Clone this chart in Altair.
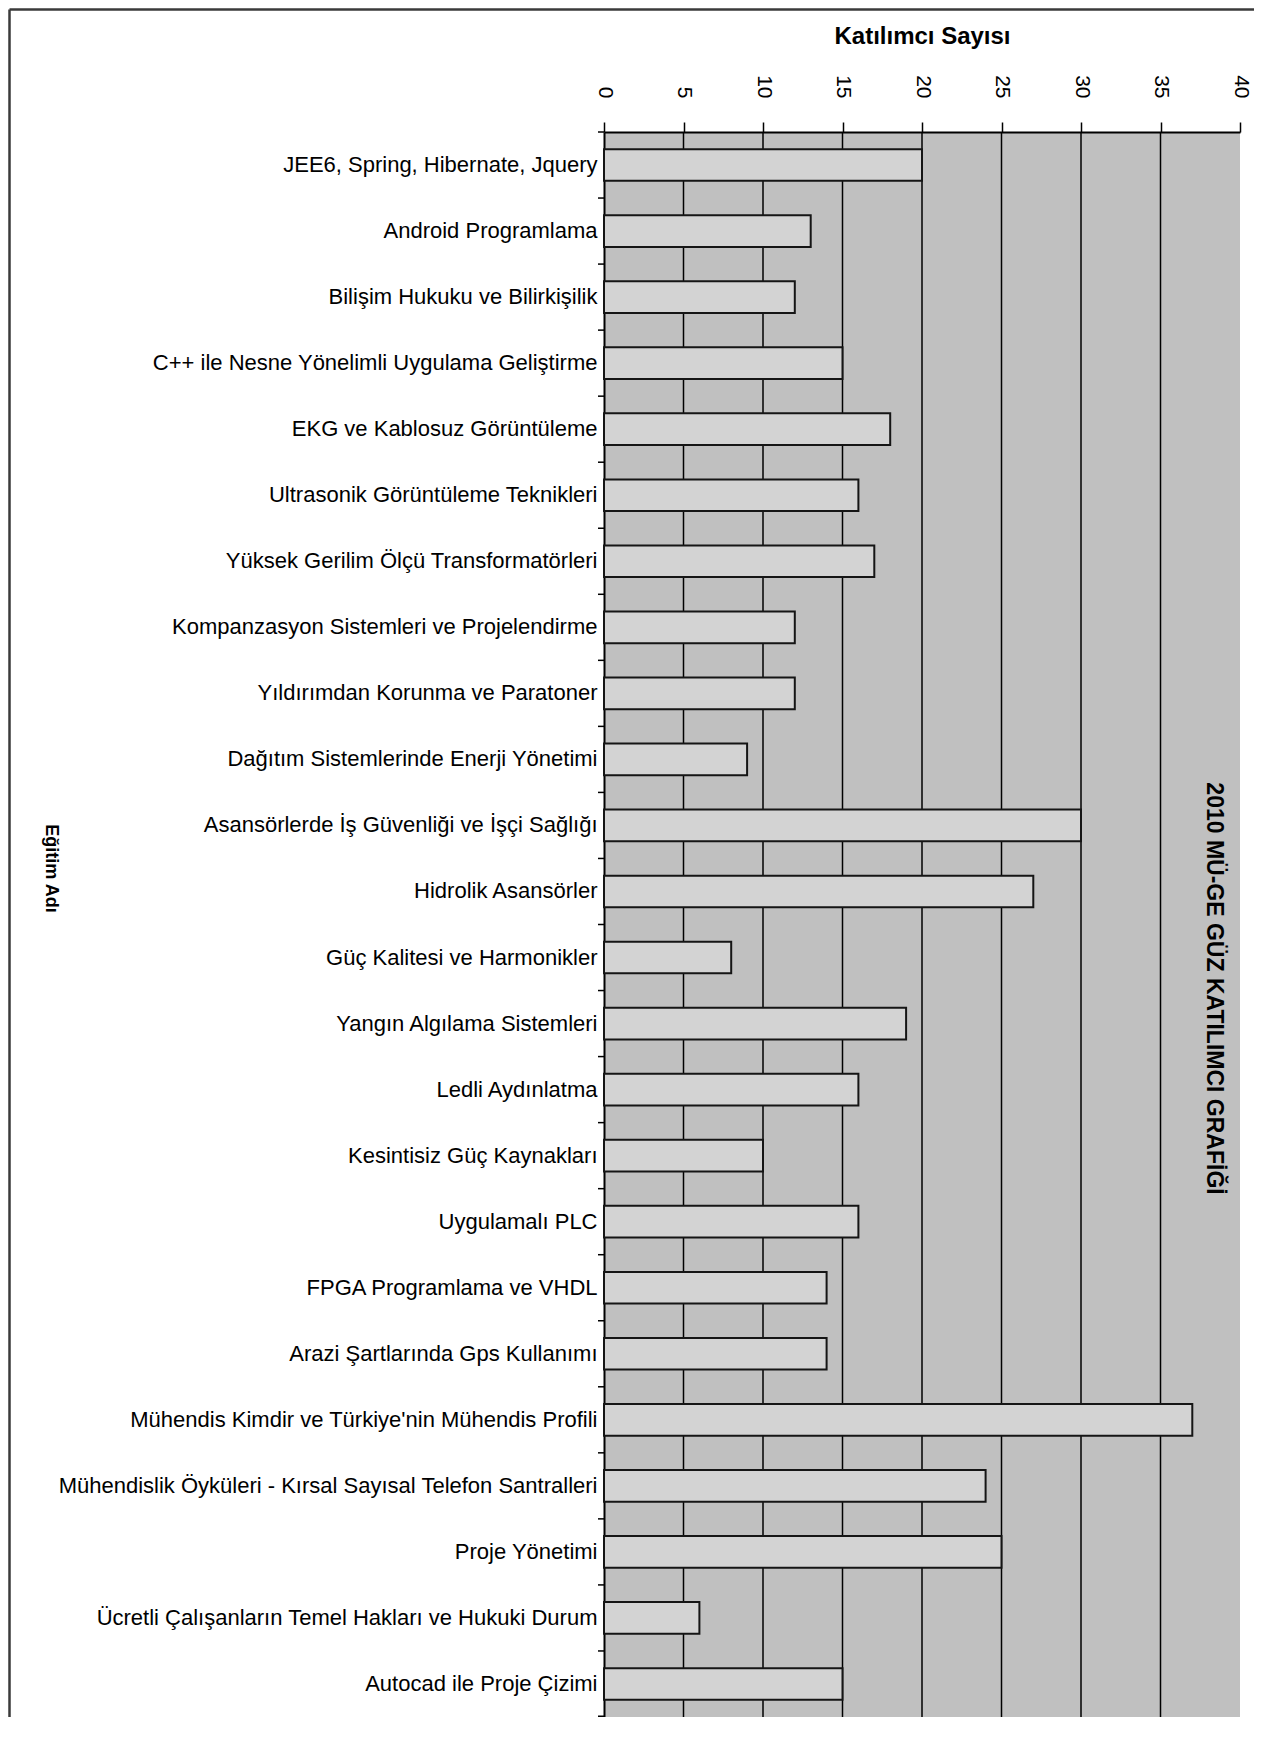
import altair as alt
import pandas as pd

courses = [
    "JEE6, Spring, Hibernate, Jquery",
    "Android Programlama",
    "Bilişim Hukuku ve Bilirkişilik",
    "C++ ile Nesne Yönelimli Uygulama Geliştirme",
    "EKG ve Kablosuz Görüntüleme",
    "Ultrasonik Görüntüleme Teknikleri",
    "Yüksek Gerilim Ölçü Transformatörleri",
    "Kompanzasyon Sistemleri ve Projelendirme",
    "Yıldırımdan Korunma ve  Paratoner",
    "Dağıtım Sistemlerinde Enerji Yönetimi",
    "Asansörlerde İş Güvenliği ve İşçi Sağlığı",
    "Hidrolik Asansörler",
    "Güç Kalitesi ve Harmonikler",
    "Yangın Algılama Sistemleri",
    "Ledli Aydınlatma",
    "Kesintisiz Güç Kaynakları",
    "Uygulamalı PLC",
    "FPGA Programlama ve VHDL",
    "Arazi Şartlarında Gps Kullanımı",
    "Mühendis Kimdir ve Türkiye'nin Mühendis Profili",
    "Mühendislik Öyküleri - Kırsal Sayısal Telefon Santralleri",
    "Proje Yönetimi",
    "Ücretli Çalışanların Temel Hakları ve Hukuki Durum",
    "Autocad ile Proje Çizimi",
]
participants = [20, 13, 12, 15, 18, 16, 17, 12, 12, 9, 30, 27, 8, 19, 16, 10,
                16, 14, 14, 37, 24, 25, 6, 15]
x_ticks = [0, 5, 10, 15, 20, 25, 30, 35, 40]
grid_values = [5, 10, 15, 20, 25, 30, 35]

W, H = 636, 1585
STEP = H / len(courses)
PAD_L, PAD_T, PAD_R, PAD_B = 596, 124, 14, 0

df = pd.DataFrame({"course": courses, "value": participants})
grid_df = pd.DataFrame({"value": grid_values})

NARROW = "Liberation Sans Narrow, Arial Narrow, Liberation Sans, sans-serif"

y_scale = alt.Scale(domain=courses, paddingInner=0.52, paddingOuter=0.26)
x_scale = alt.Scale(domain=[0, 40], nice=False)

x_axis = alt.Axis(
    orient="top",
    values=x_ticks,
    grid=False,
    title="Katılımcı Sayısı",
    titleX=W / 2,
    titleY=-96,
    titleAlign="center",
    titleBaseline="middle",
    labelAngle=90,
    labelAlign="right",
    labelBaseline="middle",
    labelPadding=24,
    tickSize=10,
)

y_axis = alt.Axis(
    title="Eğitim Adı",
    titleAngle=90,
    titleX=-554,
    titleY=736,
    titleAlign="center",
    titleBaseline="middle",
    ticks=False,
    tickSize=0,
    labelPadding=7,
    labelLimit=600,
)

grid = alt.Chart(grid_df).mark_rule(color="black", strokeWidth=1.5).encode(
    x=alt.X("value:Q", scale=x_scale, axis=x_axis)
)

bars = alt.Chart(df).mark_bar(
    fill="#d3d3d3", stroke="#151515", strokeWidth=2
).encode(
    x=alt.X("value:Q", scale=x_scale, axis=x_axis),
    y=alt.Y("course:N", scale=y_scale, sort=courses, axis=y_axis),
)

band_ticks = alt.Chart(df).mark_rule(
    color="black", strokeWidth=1.5, yOffset=-STEP / 2
).encode(
    y=alt.Y("course:N", scale=y_scale, sort=courses, axis=y_axis),
    x=alt.value(-6),
    x2=alt.value(0),
)

bottom_tick = alt.Chart(df.tail(1)).mark_rule(color="black", strokeWidth=1.5).encode(
    y=alt.value(H - 0.75), x=alt.value(-6), x2=alt.value(0)
)

frame_top = alt.Chart(df.head(1)).mark_rule(color="#3a3a3a", strokeWidth=2.5).encode(
    y=alt.value(-PAD_T + 1.5), x=alt.value(-PAD_L + 1.5), x2=alt.value(W + PAD_R)
)
frame_left = alt.Chart(df.head(1)).mark_rule(color="#3a3a3a", strokeWidth=2.5).encode(
    x=alt.value(-PAD_L + 1.5), y=alt.value(-PAD_T + 1.5), y2=alt.value(H + PAD_B)
)

chart = alt.layer(grid, bars, band_ticks, bottom_tick, frame_top, frame_left).properties(
    width=W,
    height=H,
    autosize=alt.AutoSizeParams(type="none"),
    padding={"left": PAD_L, "top": PAD_T, "right": PAD_R, "bottom": PAD_B},
    background="white",
    title=alt.TitleParams(
        text="2010 MÜ-GE GÜZ KATILIMCI GRAFİĞİ",
        orient="right",
        anchor="middle",
        offset=-53,
        dx=64,
        font="Liberation Sans",
        fontSize=23,
        fontWeight="bold",
        color="black",
    ),
).configure_view(
    fill="#c0c0c0", strokeWidth=0
).configure_axisX(
    titleFont=NARROW,
    titleFontSize=24,
    titleFontWeight="bold",
    titleColor="black",
    labelFont=NARROW,
    labelFontSize=21,
    labelColor="black",
    tickColor="black",
    tickWidth=1.5,
    domainColor="black",
    domainWidth=2,
).configure_axisY(
    titleFont="Liberation Sans",
    titleFontSize=18,
    titleFontWeight="bold",
    titleColor="black",
    labelFont=NARROW,
    labelFontSize=22,
    labelColor="black",
    domainColor="black",
    domainWidth=2,
)

chart.save("out.html", embed_options={"renderer": "svg", "actions": False})
